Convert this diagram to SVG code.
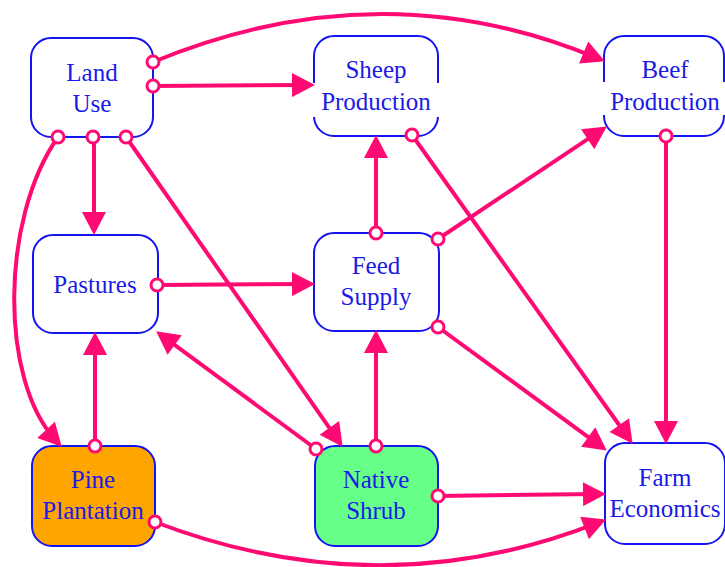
<svg xmlns="http://www.w3.org/2000/svg" width="725" height="567" viewBox="0 0 725 567">
<defs>
<style>
.box{fill:#ffffff;stroke:#1414f0;stroke-width:2}
text{font-family:"Liberation Serif",Tinos,"Times New Roman","DejaVu Serif",serif;font-size:25px;fill:#1a1ae6;text-anchor:middle}
.mask{fill:#ffffff;stroke:none}
.c{fill:none;stroke:#ff0a73;stroke-width:4}
.dot{fill:#ffffff;stroke:#ff0a73;stroke-width:3}
</style>
<marker id="ah" markerUnits="userSpaceOnUse" markerWidth="24" markerHeight="24" refX="14" refY="12" orient="auto" viewBox="0 0 23 24">
<path d="M0,0 L23,12 L0,24 z" fill="#ff0a73"/>
</marker>
</defs>
<rect width="725" height="567" fill="#ffffff"/>
<g id="land-use">
<rect class="box" x="31" y="38" width="122" height="99" rx="20"/>
<text x="92" y="81" font-family="Liberation Serif">Land</text>
<text x="92" y="112" font-family="Liberation Serif">Use</text>
</g>
<g id="sheep-production">
<rect class="box" x="314" y="36" width="124" height="100" rx="20"/>
<rect class="mask" x="311" y="83" width="130" height="34"/>
<text x="376" y="78" font-family="Liberation Serif">Sheep</text>
<text x="376" y="110" font-family="Liberation Serif">Production</text>
</g>
<g id="beef-production">
<rect class="box" x="604" y="36" width="120" height="100" rx="20"/>
<rect class="mask" x="601" y="82" width="126" height="33"/>
<text x="665" y="78" font-family="Liberation Serif">Beef</text>
<text x="665" y="110" font-family="Liberation Serif">Production</text>
</g>
<g id="pastures">
<rect class="box" x="33" y="235" width="125" height="98" rx="20"/>
<text x="95" y="293" font-family="Liberation Serif">Pastures</text>
</g>
<g id="feed-supply">
<rect class="box" x="314" y="233" width="125" height="98" rx="20"/>
<text x="376" y="274" font-family="Liberation Serif">Feed</text>
<text x="376" y="305" font-family="Liberation Serif">Supply</text>
</g>
<g id="pine-plantation">
<rect class="box" x="32" y="446" width="123" height="100" rx="20" style="fill:#ffa500"/>
<text x="93" y="488" font-family="Liberation Serif">Pine</text>
<text x="93" y="519" font-family="Liberation Serif">Plantation</text>
</g>
<g id="native-shrub">
<rect class="box" x="315" y="446" width="123" height="100" rx="20" style="fill:#66ff88"/>
<text x="376" y="488" font-family="Liberation Serif">Native</text>
<text x="376" y="519" font-family="Liberation Serif">Shrub</text>
</g>
<g id="farm-economics">
<rect class="box" x="605" y="443" width="120" height="101" rx="20"/>
<text x="665" y="486" font-family="Liberation Serif">Farm</text>
<text x="665" y="517" font-family="Liberation Serif">Economics</text>
</g>
<g id="connectors">
<path class="c" d="M153,62 Q380,-32 596.6,57.9" marker-end="url(#ah)"/>
<path class="c" d="M153,86 L306,85" marker-end="url(#ah)"/>
<path class="c" d="M58,137 C0,220 0,380 55.6,440.1" marker-end="url(#ah)"/>
<path class="c" d="M94,137 L94,226" marker-end="url(#ah)"/>
<path class="c" d="M126,137 L337.4,439.4" marker-end="url(#ah)"/>
<path class="c" d="M157,285 L306,284" marker-end="url(#ah)"/>
<path class="c" d="M376,233 L376,144" marker-end="url(#ah)"/>
<path class="c" d="M438,239 L599.3,131.4" marker-end="url(#ah)"/>
<path class="c" d="M438,327 L599.5,445.3" marker-end="url(#ah)"/>
<path class="c" d="M412,135 L627.4,436.5" marker-end="url(#ah)"/>
<path class="c" d="M666,136 L666,435" marker-end="url(#ah)"/>
<path class="c" d="M95,446 L95,341" marker-end="url(#ah)"/>
<path class="c" d="M316,449 L163.4,336.7" marker-end="url(#ah)"/>
<path class="c" d="M376,446 L376,339" marker-end="url(#ah)"/>
<path class="c" d="M438,496 L597,494" marker-end="url(#ah)"/>
<path class="c" d="M155,522 Q380,608 597.6,522.9" marker-end="url(#ah)"/>
<circle class="dot" cx="153" cy="62" r="6"/>
<circle class="dot" cx="153" cy="86" r="6"/>
<circle class="dot" cx="58" cy="137" r="6"/>
<circle class="dot" cx="93" cy="137" r="6"/>
<circle class="dot" cx="126" cy="137" r="6"/>
<circle class="dot" cx="157" cy="285" r="6"/>
<circle class="dot" cx="376" cy="233" r="6"/>
<circle class="dot" cx="438" cy="239" r="6"/>
<circle class="dot" cx="438" cy="327" r="6"/>
<circle class="dot" cx="412" cy="135" r="6"/>
<circle class="dot" cx="666" cy="136" r="6"/>
<circle class="dot" cx="95" cy="446" r="6"/>
<circle class="dot" cx="316" cy="449" r="6"/>
<circle class="dot" cx="376" cy="446" r="6"/>
<circle class="dot" cx="438" cy="496" r="6"/>
<circle class="dot" cx="155" cy="522" r="6"/>
</g>
</svg>
